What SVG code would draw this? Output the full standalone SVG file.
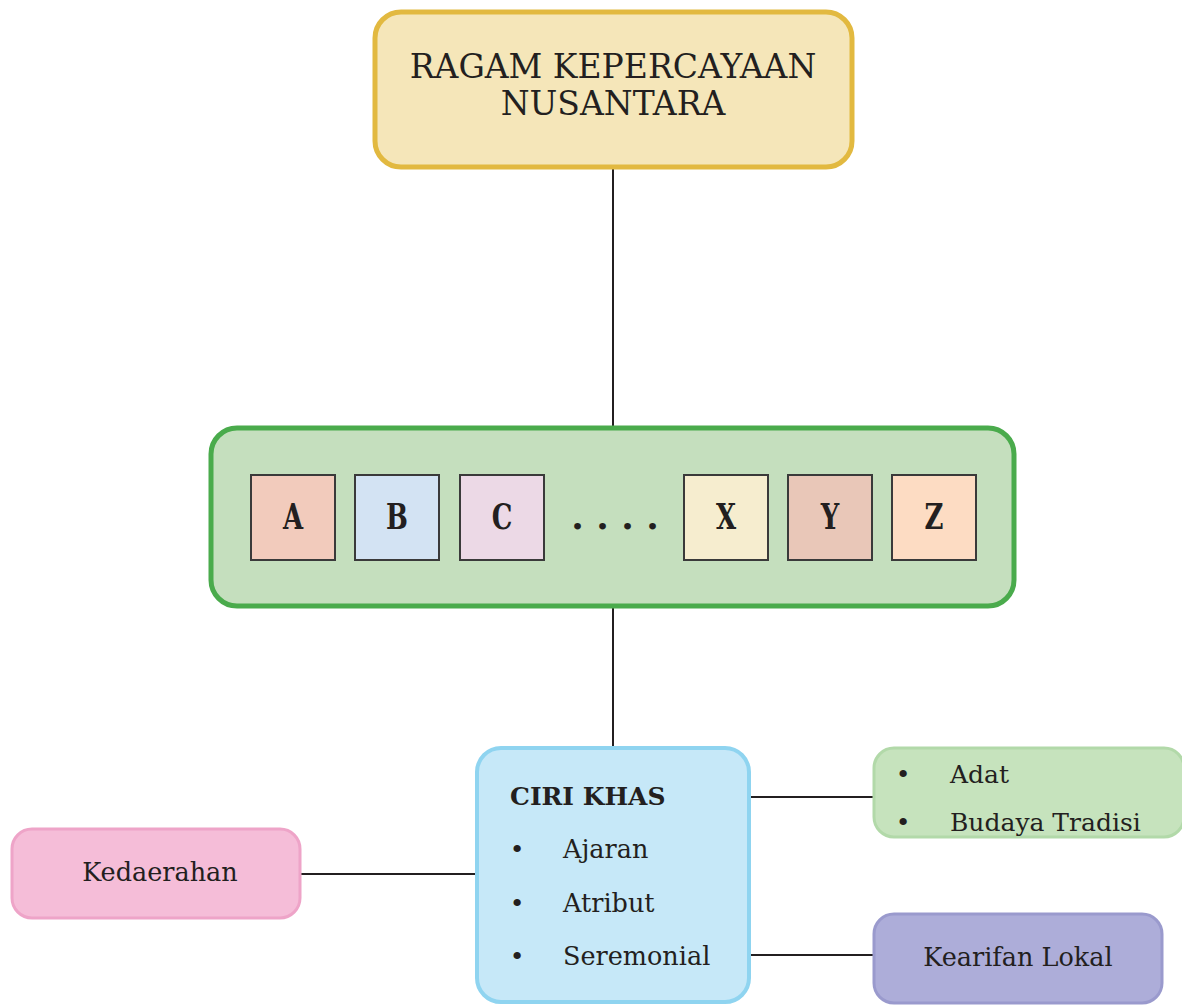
<svg xmlns="http://www.w3.org/2000/svg" width="1182" height="1005" viewBox="0 0 1182 1005">
  <style>
    .t { font-family: "DejaVu Serif", "Liberation Serif", serif; fill: #231f20; }
    .b { font-weight: bold; }
    .letter { font-family: "DejaVu Serif", "Liberation Serif", serif; font-weight: bold; font-size: 36px; fill: #231f20; text-anchor: middle; }
    .tile { stroke: #3a3a3a; stroke-width: 2; }
    .link { stroke: #231f20; stroke-width: 2; fill: none; }
  </style>

  <rect width="1182" height="1005" fill="#ffffff"/>

  <!-- connectors -->
  <g id="connectors">
    <line class="link" x1="613" y1="168" x2="613" y2="428"/>
    <line class="link" x1="613" y1="607" x2="613" y2="748"/>
    <line class="link" x1="750" y1="797" x2="873" y2="797"/>
    <line class="link" x1="300" y1="874" x2="476" y2="874"/>
    <line class="link" x1="750" y1="955" x2="873" y2="955"/>
  </g>

  <!-- title -->
  <g id="title">
    <rect x="375" y="12" width="477" height="155" rx="26" fill="#f5e6b9" stroke="#e2b940" stroke-width="5"/>
    <text class="t" x="613" y="78" font-size="33" text-anchor="middle">RAGAM KEPERCAYAAN</text>
    <text class="t" x="613" y="115" font-size="33" text-anchor="middle">NUSANTARA</text>
  </g>

  <!-- group of beliefs A..Z; letters narrowed horizontally -->
  <g id="ragam">
    <rect x="211" y="428" width="803" height="178" rx="26" fill="#c5dfbe" stroke="#4aab4c" stroke-width="5"/>
    <g id="tile-a"><rect class="tile" x="251" y="475" width="84" height="85" fill="#f2cbbc"/><text class="letter" transform="translate(293 529) scale(0.72 1)">A</text></g>
    <g id="tile-b"><rect class="tile" x="355" y="475" width="84" height="85" fill="#d3e3f3"/><text class="letter" transform="translate(397 529) scale(0.72 1)">B</text></g>
    <g id="tile-c"><rect class="tile" x="460" y="475" width="84" height="85" fill="#ecd9e6"/><text class="letter" transform="translate(502 529) scale(0.72 1)">C</text></g>
    <text class="letter" x="615" y="529">. . . .</text>
    <g id="tile-x"><rect class="tile" x="684" y="475" width="84" height="85" fill="#f6edcf"/><text class="letter" transform="translate(726 529) scale(0.72 1)">X</text></g>
    <g id="tile-y"><rect class="tile" x="788" y="475" width="84" height="85" fill="#e9c7b8"/><text class="letter" transform="translate(830 529) scale(0.72 1)">Y</text></g>
    <g id="tile-z"><rect class="tile" x="892" y="475" width="84" height="85" fill="#fddcc3"/><text class="letter" transform="translate(934 529) scale(0.72 1)">Z</text></g>
  </g>

  <!-- characteristics -->
  <g id="ciri-khas">
    <rect x="477" y="748" width="272" height="254" rx="24" fill="#c6e8f8" stroke="#8fd4f0" stroke-width="4"/>
    <text class="t b" x="510" y="805" font-size="25">CIRI KHAS</text>
    <text class="t" x="517" y="858" font-size="25" text-anchor="middle">•</text>
    <text class="t" x="563" y="858" font-size="25.5">Ajaran</text>
    <text class="t" x="517" y="912" font-size="25" text-anchor="middle">•</text>
    <text class="t" x="563" y="912" font-size="25.5">Atribut</text>
    <text class="t" x="517" y="965" font-size="25" text-anchor="middle">•</text>
    <text class="t" x="563" y="965" font-size="25.5">Seremonial</text>
  </g>

  <g id="adat">
    <rect x="874" y="748" width="310" height="89" rx="20" fill="#c6e3bd" stroke="#b2d9a9" stroke-width="3"/>
    <text class="t" x="903" y="783" font-size="25" text-anchor="middle">•</text>
    <text class="t" x="950" y="783" font-size="25">Adat</text>
    <text class="t" x="903" y="831" font-size="25" text-anchor="middle">•</text>
    <text class="t" x="950" y="831" font-size="25">Budaya Tradisi</text>
  </g>

  <g id="kedaerahan">
    <rect x="12" y="829" width="288" height="89" rx="20" fill="#f5bdd8" stroke="#eea4c8" stroke-width="3"/>
    <text class="t" x="160" y="881" font-size="25.5" text-anchor="middle">Kedaerahan</text>
  </g>

  <g id="kearifan-lokal">
    <rect x="874" y="914" width="288" height="89" rx="20" fill="#adadd9" stroke="#9a9acd" stroke-width="3"/>
    <text class="t" x="1018" y="966" font-size="25.5" text-anchor="middle">Kearifan Lokal</text>
  </g>
</svg>
